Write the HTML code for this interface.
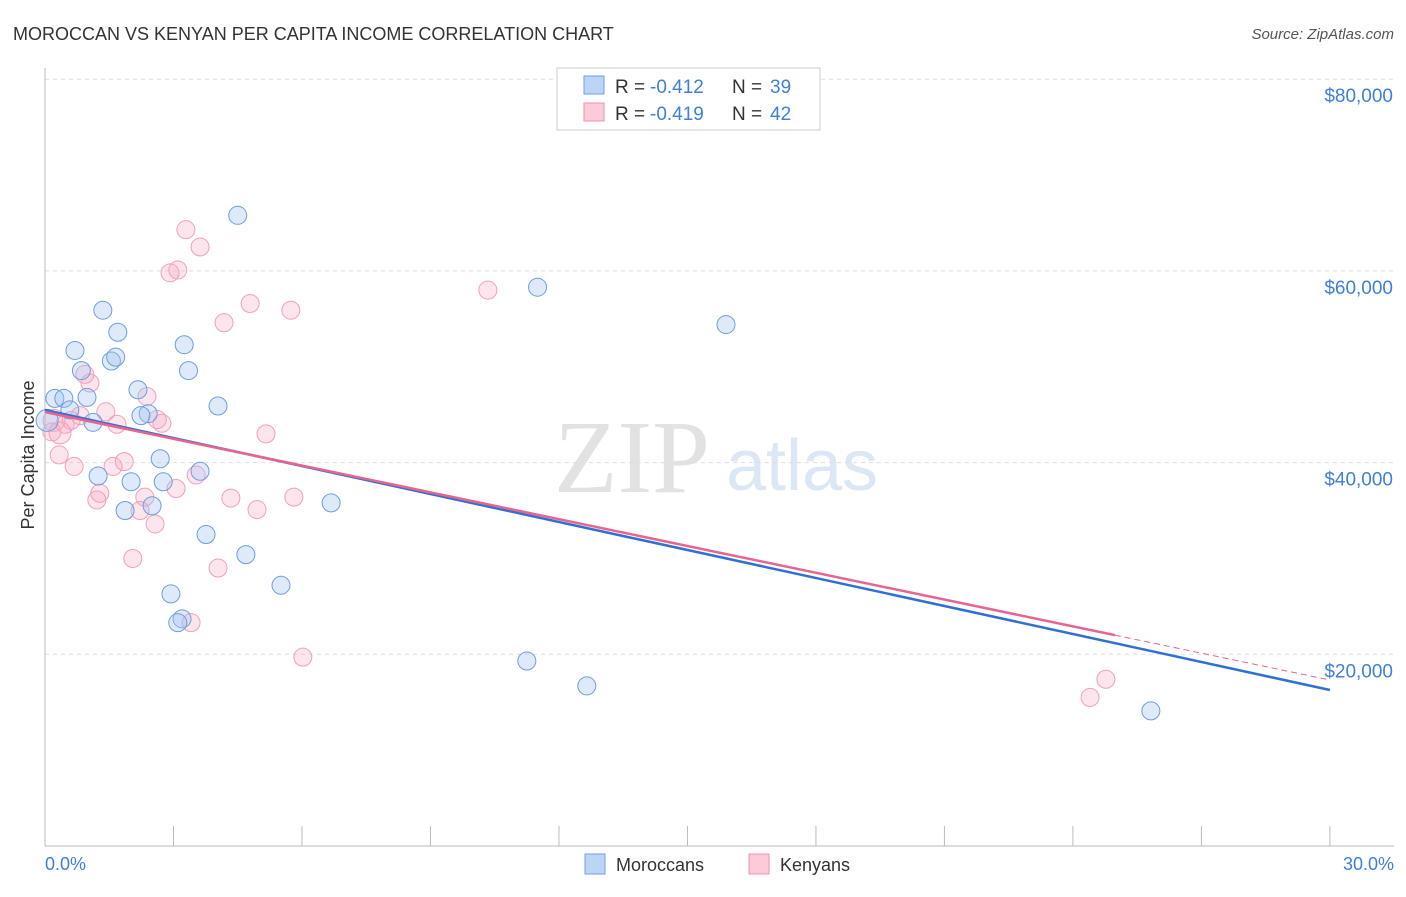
<!DOCTYPE html>
<html><head><meta charset="utf-8"><style>
body{margin:0;background:#fff;font-family:"Liberation Sans",sans-serif}
</style></head><body>
<svg id="c" width="1406" height="892" font-family="Liberation Sans, sans-serif">
<text x="13" y="40" font-size="18" fill="#333">MOROCCAN VS KENYAN PER CAPITA INCOME CORRELATION CHART</text>
<text x="1394" y="39" font-size="15" fill="#555" text-anchor="end" font-style="italic">Source: ZipAtlas.com</text>
<text x="632" y="492" font-size="104" fill="#e2e2e2" style="font-family:'Liberation Serif',serif" text-anchor="middle">ZIP</text>
<text x="802" y="490" font-size="72" fill="#dce7f5" text-anchor="middle">atlas</text>
<g id="grid"></g><g id="axes"></g><g id="pts"></g><g id="lines"></g>
<text transform="translate(34,455) rotate(-90)" font-size="18" fill="#333" text-anchor="middle">Per Capita Income</text>
<text x="45" y="870" font-size="18" fill="#3f7fd8">0.0%</text>
<text x="1394" y="870" font-size="18" fill="#3f7fd8" text-anchor="end">30.0%</text>
<g>
<rect x="557" y="68" width="263" height="62" fill="#fff" stroke="#ccc"/>
<rect x="584" y="76" width="20" height="18" fill="#bcd5f5" stroke="#6f9fe0"/>
<rect x="584" y="103" width="20" height="18" fill="#fbcbd9" stroke="#ef8fab"/>
<text x="615" y="93" font-size="19" fill="#333">R =</text>
<text x="650" y="93" font-size="19" fill="#3f7fd8">-0.412</text>
<text x="732" y="93" font-size="19" fill="#333">N =</text>
<text x="770" y="93" font-size="19" fill="#3f7fd8">39</text>
<text x="615" y="120" font-size="19" fill="#333">R =</text>
<text x="650" y="120" font-size="19" fill="#3f7fd8">-0.419</text>
<text x="732" y="120" font-size="19" fill="#333">N =</text>
<text x="770" y="120" font-size="19" fill="#3f7fd8">42</text>
</g>
<g>
<rect x="585" y="854" width="20" height="20" fill="#bcd5f5" stroke="#6f9fe0"/>
<text x="616" y="871" font-size="18" fill="#333">Moroccans</text>
<rect x="749" y="854" width="20" height="20" fill="#fbcbd9" stroke="#ef8fab"/>
<text x="780" y="871" font-size="18" fill="#333">Kenyans</text>
</g>
</svg>
<script>
const yTicks=[20000,40000,60000,80000];
const yTickLabels=["$20,000","$40,000","$60,000","$80,000"];
const moroccanX=[4.5,11.5,15.9,1.35,1.7,0.7,3.25,1.55,1.65,0.85,3.35,2.17,4.04,0.23,0.44,0.98,0.58,2.41,2.24,1.12,0.05,2.69,3.62,1.24,2.01,2.76,2.5,1.87,6.68,3.76,4.69,5.51,2.94,3.2,3.1,11.25,12.65,25.82];
const moroccanY=[65800,58300,54400,55900,53600,51700,52300,50600,51000,49600,49600,47600,45900,46700,46700,46800,45500,45100,44900,44200,44400,40400,39100,38600,38000,38000,35500,35000,35800,32500,30400,27200,26300,23700,23300,19300,16700,14100];
const kenyanX=[3.29,3.62,3.1,2.92,4.79,5.74,4.18,10.34,0.93,1.05,2.38,1.42,0.82,1.68,2.73,2.62,0.47,0.61,0.16,5.16,0.33,0.68,1.59,1.85,3.53,3.06,1.28,1.21,2.33,4.34,5.81,4.95,2.22,2.57,2.05,4.04,3.41,6.02,24.77,24.4,0.21,0.35];
const kenyanY=[64300,62500,60100,59800,56600,55900,54600,58000,49200,48300,46900,45300,44900,44000,44100,44500,44000,44400,43200,43000,40800,39600,39600,40100,38700,37300,36800,36100,36400,36300,36400,35100,35000,33600,30000,29000,23300,19700,17400,15500,44400,43100];
const trendB=[[0,45487],[30,16276]];
const trendK=[[0,45280],[24.98,22000],[30,17319]];
const X=v=>45+v*42.83, Y=v=>846-v*191.7/20000;
const NS="http://www.w3.org/2000/svg";
function mk(p,t,a){const e=document.createElementNS(NS,t);for(const k in a)e.setAttribute(k,a[k]);document.getElementById(p).appendChild(e);return e;}
yTicks.forEach((t,i)=>{
 const l=mk('grid','line',{x1:45,x2:1394,y1:Y(t),y2:Y(t),stroke:'#ddd','stroke-dasharray':'4,4'});
 
 
 const tx=mk('grid','text',{x:1393,y:Y(t)+23,'font-size':19,fill:'#3f7fd8','text-anchor':'end'});
 tx.textContent=yTickLabels[i];
 
 
});
mk('axes','line',{x1:45,x2:45,y1:68,y2:846,stroke:'#bbb'});
mk('axes','line',{x1:45,x2:1394,y1:846,y2:846,stroke:'#bbb'});
for(let i=0;i<=10;i++){const x=X(i*3);const t=mk('axes','line',{x1:x,x2:x,y1:826,y2:846,stroke:'#bbb'});
 
 }
kenyanX.forEach((x,i)=>{const c=mk('pts','circle',{cx:X(x),cy:Y(kenyanY[i]),r:(i>=40?11:9),fill:'rgba(247,170,195,0.3)',stroke:'#f0a0b8','stroke-width':1});
 
 });
moroccanX.forEach((x,i)=>{const c=mk('pts','circle',{cx:X(x),cy:Y(moroccanY[i]),r:(i==20?11:9),fill:'rgba(160,195,240,0.35)',stroke:'#6d9de0','stroke-width':1});
 
 });
const lb=mk('lines','line',{x1:X(trendB[0][0]),y1:Y(trendB[0][1]),x2:X(trendB[1][0]),y2:Y(trendB[1][1]),stroke:'#2f6fd6','stroke-width':2.5});


const lk=mk('lines','line',{x1:X(trendK[0][0]),y1:Y(trendK[0][1]),x2:X(trendK[1][0]),y2:Y(trendK[1][1]),stroke:'#e8638e','stroke-width':2.5});


const lk2=mk('lines','line',{x1:X(trendK[1][0]),y1:Y(trendK[1][1]),x2:X(trendK[2][0]),y2:Y(trendK[2][1]),stroke:'#e8638e','stroke-width':1,'stroke-dasharray':'6,4'});


</script>
</body></html>
